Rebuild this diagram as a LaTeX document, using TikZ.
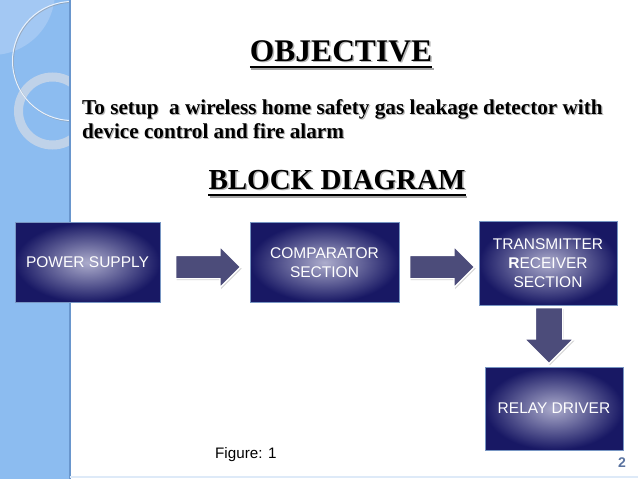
\documentclass[tikz,border=0pt]{standalone}
\usepackage{fontspec}
\setmainfont{Liberation Serif}
\setsansfont{Liberation Sans}
\usetikzlibrary{shadows,shapes.arrows}
\definecolor{stripblue}{RGB}{140,188,240}
\definecolor{stripedge}{RGB}{105,150,205}
\definecolor{lensblue}{RGB}{163,200,243}
\definecolor{ringcol}{RGB}{200,214,232}
\definecolor{boxlight}{RGB}{172,172,204}
\definecolor{boxdark}{RGB}{24,24,100}
\definecolor{boxedge}{RGB}{120,150,195}
\definecolor{arrowfill}{RGB}{76,76,122}
\definecolor{pagenum}{RGB}{90,115,160}
\definecolor{bottomline}{RGB}{222,234,248}
\tikzset{
  blockbox/.style={draw=boxedge, line width=0.8pt, inner color=boxlight, outer color=boxdark,
    text=white, font=\sffamily\fontsize{15.5}{19}\selectfont, align=center, inner sep=0pt},
  blockarrow/.style={single arrow, single arrow head extend=9pt,
    inner xsep=0pt, inner ysep=11pt, fill=arrowfill, draw=white, line width=1.4pt,
    anchor=tail, drop shadow={opacity=0.35, shadow xshift=1pt, shadow yshift=-1.5pt}},
  titletext/.style={font=\bfseries\fontsize{31.5}{36}\selectfont, inner sep=0pt, anchor=base},
  shadowtext/.style={text=black!35, opacity=0.8},
  bodytext/.style={font=\bfseries\fontsize{21.2}{24}\selectfont, inner sep=0pt, anchor=base west}
}
\begin{document}
\begin{tikzpicture}[x=1pt,y=-1pt]
\useasboundingbox (0,0) rectangle (638,479);
\fill[white] (0,0) rectangle (638,479);
% left strip
\fill[stripblue] (0,0) rectangle (70,479);
\begin{scope}
  \clip (0,0) rectangle (70,479);
  \fill[lensblue] (-8,-8) circle (63);
  \draw[ringcol, line width=9pt, opacity=0.85] (52.5,111) circle (34);
  \draw[black!45, line width=1pt, opacity=0.5] (72.8,61.8) circle (59.5);
  \draw[white!80!stripblue, line width=1pt] (72,61) circle (59.5);
\end{scope}
\draw[stripedge, line width=1.2pt] (70,0) -- (70,479);
\draw[bottomline, line width=2pt] (70,477) -- (638,477);

% titles
\node[titletext, shadowtext] (objsh) at (342.5,62.5) {OBJECTIVE};
\node[titletext] (obj) at (341,61) {OBJECTIVE};
\draw[black!35, line width=2pt] ([xshift=1.5pt,yshift=-7.5pt]obj.base west) -- ([xshift=1.5pt,yshift=-7.5pt]obj.base east);
\draw[line width=2pt] ([yshift=-6pt]obj.base west) -- ([yshift=-6pt]obj.base east);

\node[bodytext, shadowtext] (l1sh) at (83.2,115.2) {To setup\ \ a wireless home safety gas leakage detector with};
\node[bodytext] (l1) at (82,114) {To setup\ \ a wireless home safety gas leakage detector with};
\node[bodytext, shadowtext] (l2sh) at (83.2,139.2) {device control and fire alarm};
\node[bodytext] (l2) at (82,138) {device control and fire alarm};

\node[titletext, shadowtext, font=\bfseries\fontsize{29}{34}\selectfont] (bdsh) at (338.5,190.5) {BLOCK DIAGRAM};
\node[titletext, font=\bfseries\fontsize{29}{34}\selectfont] (bd) at (337,189) {BLOCK DIAGRAM};
\draw[black!35, line width=2pt] ([xshift=1.5pt,yshift=-7.5pt]bd.base west) -- ([xshift=1.5pt,yshift=-7.5pt]bd.base east);
\draw[line width=2pt] ([yshift=-6pt]bd.base west) -- ([yshift=-6pt]bd.base east);

% blocks
\node[blockbox, minimum width=145pt, minimum height=80pt] (ps) at (87.5,262.5) {POWER SUPPLY};
\node[blockbox, minimum width=149pt, minimum height=80pt] (cmp) at (324.5,262.5) {COMPARATOR\\SECTION};
\node[blockbox, minimum width=138pt, minimum height=84pt] (tr) at (548,263) {TRANSMITTER\\\textbf{R}ECEIVER\\SECTION};
\node[blockbox, minimum width=138pt, minimum height=83pt] (rd) at (554,408.5) {RELAY DRIVER};

% arrows
\node[blockarrow, minimum height=65pt] (a1) at (175,267) {};
\node[blockarrow, minimum height=65pt] (a2) at (409,267) {};
\node[blockarrow, minimum height=56pt, inner ysep=13pt, single arrow head extend=11pt, rotate=-90] (a3) at (549,307) {};

% captions
\node[font=\sffamily\fontsize{15.2}{18}\selectfont, inner sep=0pt, anchor=base west] (fig) at (215,458) {Figure: 1};
\node[font=\sffamily\bfseries\fontsize{14}{16}\selectfont, text=pagenum, inner sep=0pt, anchor=base] (pg) at (622,467) {2};
\end{tikzpicture}
\end{document}
